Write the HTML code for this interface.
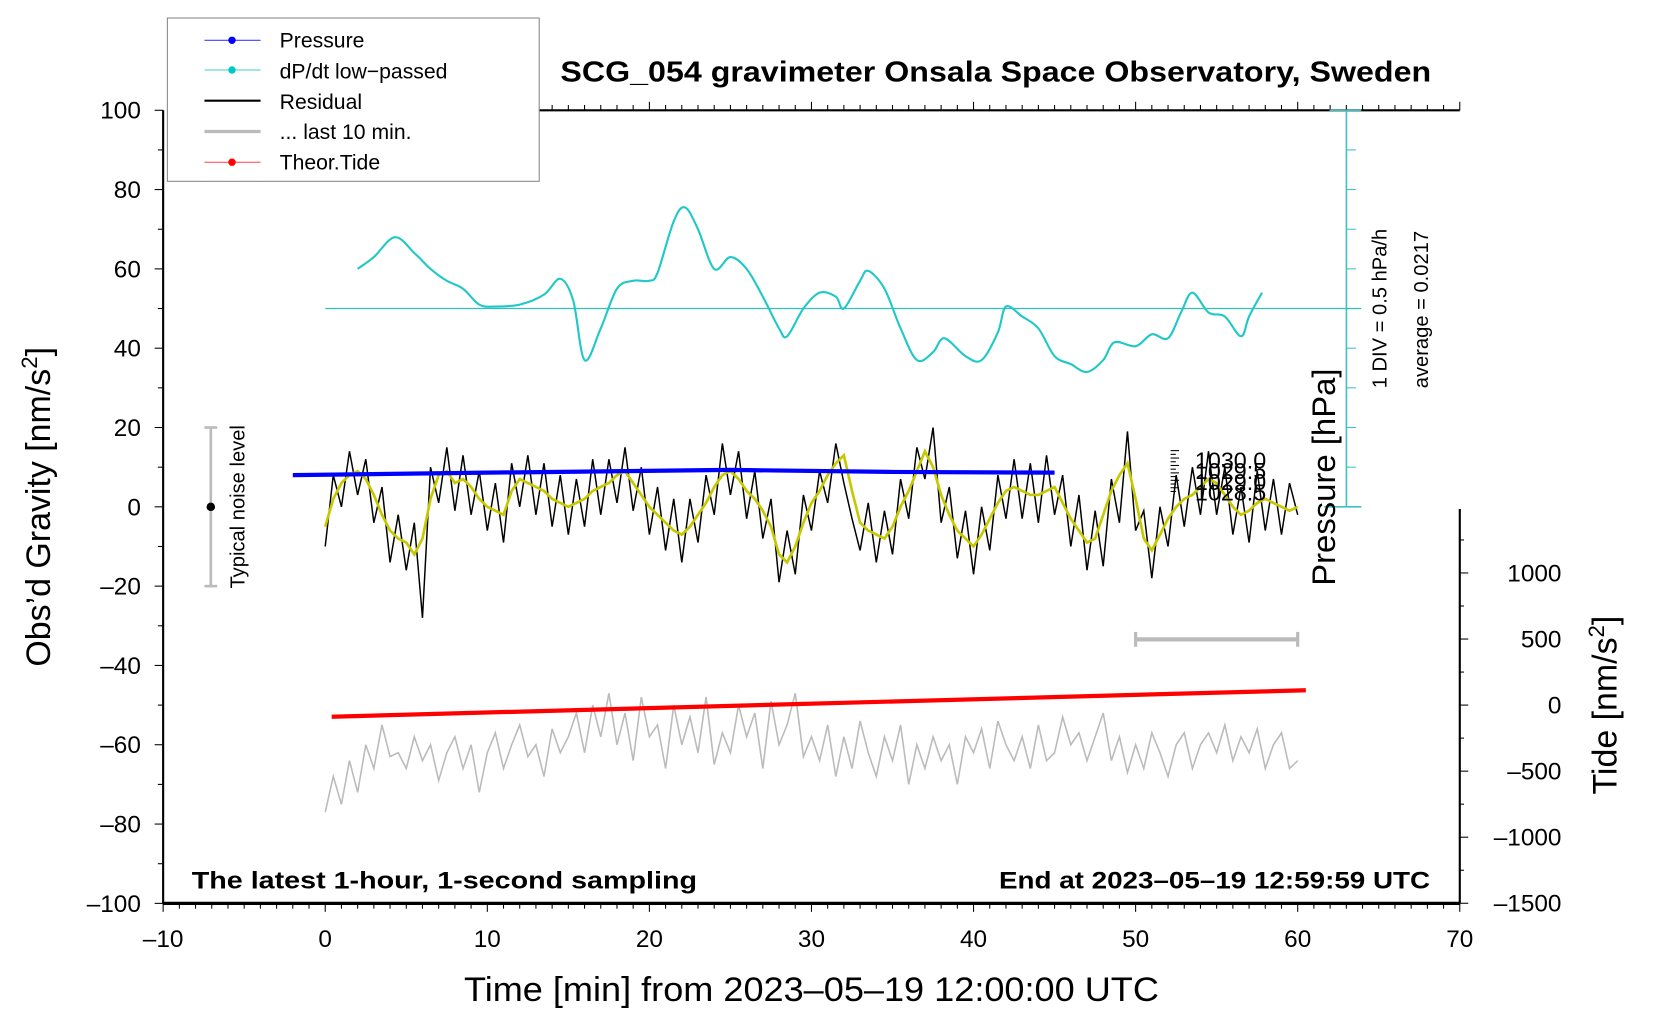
<!DOCTYPE html>
<html><head><meta charset="utf-8">
<style>
html,body{margin:0;padding:0;background:#fff;}
svg{display:block;font-family:"Liberation Sans",sans-serif;}
</style></head>
<body>
<svg id="chart" width="1660" height="1020" viewBox="0 0 1567 962" preserveAspectRatio="none" xmlns="http://www.w3.org/2000/svg">
<rect x="0" y="0" width="1567" height="962" fill="#fff"/>
<g id="axes"></g>
<g id="series"></g>
<text x="529" y="77" font-size="27" font-weight="bold" textLength="822" lengthAdjust="spacingAndGlyphs">SCG_054 gravimeter Onsala Space Observatory, Sweden</text>
<text x="181" y="838" font-size="23" font-weight="bold" textLength="477" lengthAdjust="spacingAndGlyphs">The latest 1-hour, 1-second sampling</text>
<text x="943" y="838" font-size="23" font-weight="bold" textLength="407" lengthAdjust="spacingAndGlyphs">End at 2023–05–19 12:59:59 UTC</text>
<text x="438" y="944" font-size="32" textLength="656" lengthAdjust="spacingAndGlyphs">Time [min] from 2023–05–19 12:00:00 UTC</text>
<text transform="translate(47,478) rotate(-90)" font-size="32" text-anchor="middle">Obs’d Gravity [nm/s<tspan dy="-12" font-size="21">2</tspan><tspan dy="12">]</tspan></text>
<text transform="translate(1526,665) rotate(-90)" font-size="32" text-anchor="middle">Tide [nm/s<tspan dy="-12" font-size="21">2</tspan><tspan dy="12">]</tspan></text>
<text transform="translate(1260,450) rotate(-90)" font-size="31" text-anchor="middle">Pressure [hPa]</text>
<text transform="translate(1309,291) rotate(-90)" font-size="19" text-anchor="middle">1 DIV = 0.5 hPa/h</text>
<text transform="translate(1348,292) rotate(-90)" font-size="19" text-anchor="middle">average = 0.0217</text>
<text transform="translate(231,478) rotate(-90)" font-size="19" text-anchor="middle">Typical noise level</text>
<g font-size="22" fill="#000">
<text x="1128" y="442">1030.0</text><text x="1128" y="452">1029.5</text><text x="1128" y="462">1029.0</text><text x="1128" y="472">1028.5</text>
</g>
<g>
<rect x="158" y="17" width="351" height="154" fill="#fff" stroke="#888" stroke-width="1"/>
<line x1="193" y1="38" x2="246" y2="38" stroke="#4040ff" stroke-width="1"/><circle cx="219" cy="38" r="3.5" fill="#0000ff"/>
<text x="264" y="45" font-size="20">Pressure</text>
<line x1="193" y1="66" x2="246" y2="66" stroke="#40d0d0" stroke-width="1"/><circle cx="219" cy="66" r="3.5" fill="#00c8c8"/>
<text x="264" y="74" font-size="20">dP/dt low−passed</text>
<line x1="193" y1="95" x2="246" y2="95" stroke="#000" stroke-width="2"/>
<text x="264" y="103" font-size="20">Residual</text>
<line x1="193" y1="124" x2="246" y2="124" stroke="#bbb" stroke-width="3"/>
<text x="264" y="131" font-size="20">... last 10 min.</text>
<line x1="193" y1="153" x2="246" y2="153" stroke="#ff4040" stroke-width="1"/><circle cx="219" cy="153" r="3.5" fill="#ff0000"/>
<text x="264" y="160" font-size="20">Theor.Tide</text>
</g>
</svg>
<script>
const xTicks=[-10,0,10,20,30,40,50,60,70];
const yTicks=[100,80,60,40,20,0,-20,-40,-60,-80,-100];
const tideTicks=[1000,500,0,-500,-1000,-1500];
const yellowVals=[-5,2,6,8,9,7,3,-2,-6,-8,-9,-12,-8,2,8,9,6,7,5,2,0,-1,-2,4,7,6,5,4,2,1,0,1,2,4,5,6,8,9,6,3,0,-2,-4,-6,-7,-5,-2,1,5,8,9,7,4,2,-1,-5,-12,-14,-10,-4,1,4,8,11,13,4,-4,-6,-7,-8,-5,0,4,9,14,10,3,-2,-6,-8,-10,-7,-3,1,4,5,4,3,3,4,5,1,-3,-6,-9,-8,-2,4,8,11,2,-8,-11,-7,-3,0,2,3,5,7,6,3,0,-2,-1,1,2,1,0,-1,0];
const residualVals=[-10,8,0,14,3,12,-4,5,-14,-2,-16,-4,-28,10,1,15,-1,13,-2,9,-6,6,-9,11,0,13,-2,11,-5,8,-7,7,-5,12,-2,12,1,15,-1,10,-7,5,-11,2,-14,2,-9,8,-2,16,3,14,-3,9,-8,2,-19,-6,-17,3,-6,9,1,16,6,-3,-11,1,-14,-1,-12,7,-3,15,7,20,-4,5,-13,-1,-17,0,-11,8,-3,12,-3,11,-4,13,-2,8,-10,3,-16,-1,-15,7,-4,19,-6,-1,-18,0,-10,8,-5,10,-2,14,-2,10,-7,5,-9,9,-6,7,-7,6,-2];
const grayVals=[-77,-68,-75,-64,-72,-60,-66,-55,-63,-62,-66,-58,-64,-60,-69,-62,-58,-66,-60,-72,-62,-57,-66,-60,-55,-63,-60,-68,-56,-62,-58,-52,-62,-50,-58,-47,-60,-52,-64,-48,-58,-55,-66,-50,-60,-53,-62,-48,-65,-57,-62,-50,-58,-52,-66,-49,-60,-55,-47,-63,-58,-64,-55,-68,-58,-66,-54,-62,-68,-58,-64,-55,-70,-60,-66,-58,-64,-60,-70,-58,-62,-56,-66,-54,-60,-64,-58,-66,-55,-64,-62,-53,-60,-57,-64,-58,-52,-64,-58,-67,-60,-66,-57,-62,-68,-60,-57,-66,-60,-57,-62,-55,-64,-58,-62,-56,-66,-60,-57,-66,-64];
const dpdtTimes=[2,3,4.3,5.5,6.5,7.5,8.5,9.5,10.5,12,13.5,14.5,15.3,16,17,18,19,20,20.5,21.5,22.2,23,24,25,26,27,28,28.5,29.5,30.5,31.5,32,33,33.5,34.5,35.5,36.5,37.5,38.2,39.5,40.5,41.5,42,43,44,45,46,47,48,48.7,50,51,52,52.8,53.5,54.5,55.5,56.5,57,57.8];
const dpdtVals=[60,63,68,64,60,57,55,51,50.5,51,53.5,57.5,52,37,45,55,57,57,59,72,75.5,70,60,63,60,53,45,43,50,54,53,50,57,59.5,55,45,37,39,42.5,38,37,44,50.5,48,45,38,36,34,37,41.5,40.5,43.5,42.5,49,54,49,48,43,48,54];
const dpdtAverage=50;
const pressTimes=[-2,10,25,35,45];
const pressVals=[8,8.6,9.3,8.8,8.6];
const tideTimes=[0.4,60.5];
const tideVals=[-88,112];

var X=function(t){return 307+t*15.3;};
var Y=function(v){return 478-v*3.74;};
var T=function(v){return 665-v*62.3/500;};
var NS="http://www.w3.org/2000/svg";
var axes=document.getElementById('axes');
var ser=document.getElementById('series');
function mk(tag,at,parent){var el=document.createElementNS(NS,tag);for(var k in at){el.setAttribute(k,at[k]);}parent.appendChild(el);return el;}
function fmt(v){return String(v).replace('-','\u2013');}

var el=mk('line',{x1:154,y1:104,x2:154,y2:852,stroke:'#000','stroke-width':2},axes);


el=mk('line',{x1:154,y1:852,x2:1378,y2:852,stroke:'#000','stroke-width':3},axes);


el=mk('line',{x1:509,y1:104,x2:1378,y2:104,stroke:'#000','stroke-width':2},axes);


el=mk('line',{x1:1378,y1:480,x2:1378,y2:852,stroke:'#000','stroke-width':2},axes);


for(var m=-10;m<=70;m++){var big=(m%10===0);
 mk('line',{x1:X(m),y1:852,x2:X(m),y2:852+(big?8:5),stroke:'#000','stroke-width':1},axes);
 if(X(m)>=509){mk('line',{x1:X(m),y1:104,x2:X(m),y2:104-(big?8:5),stroke:'#000','stroke-width':1},axes);}}
xTicks.forEach(function(t){var tx=mk('text',{x:X(t),y:893,'font-size':23,'text-anchor':'middle'},axes);tx.textContent=fmt(t);

});
for(var v=-100;v<=100;v+=10){mk('line',{x1:146+(v%20===0?0:3),y1:Y(v),x2:154,y2:Y(v),stroke:'#000','stroke-width':1},axes);}
yTicks.forEach(function(v){var tx=mk('text',{x:133,y:Y(v)+8,'font-size':23,'text-anchor':'end'},axes);tx.textContent=fmt(v);

});
for(var tv=-1500;tv<=1500;tv+=250){var ty=T(tv);if(ty<480)continue;mk('line',{x1:1378,y1:ty,x2:1378+(tv%500===0?8:4),y2:ty,stroke:'#000','stroke-width':1},axes);}
tideTicks.forEach(function(v){var tx=mk('text',{x:1474,y:T(v)+8,'font-size':23,'text-anchor':'end'},axes);tx.textContent=fmt(v);

});
el=mk('line',{x1:1271,y1:104,x2:1271,y2:478,stroke:'#40c0c0','stroke-width':1.5},axes);


for(var i=0;i<=10;i++){var yy=104+i*37.4;mk('line',{x1:1271,y1:yy,x2:1280,y2:yy,stroke:'#40c0c0','stroke-width':1},axes);}
mk('line',{x1:1255,y1:104,x2:1285,y2:104,stroke:'#40c0c0','stroke-width':1.5},axes);
mk('line',{x1:1250,y1:478,x2:1285,y2:478,stroke:'#40c0c0','stroke-width':1.5},axes);
for(var j=0;j<12;j++){mk('line',{x1:1105,y1:425+j*3.5,x2:1110+(j%2?0:3),y2:425+j*3.5,stroke:'#000','stroke-width':1},axes);}

function poly(xs,ys,fx,fy,attrs,name){var pts=xs.map(function(x,k){return fx(x).toFixed(1)+','+fy(ys[k]).toFixed(1);}).join(' ');
 attrs.points=pts;attrs.fill='none';
 var p=mk('polyline',attrs,ser);
 
 }
function smooth(xs,ys,fx,fy,attrs,name){
 var P=xs.map(function(x,k){return [fx(x),fy(ys[k])];});
 var n=P.length;
 var d='M'+P[0][0].toFixed(1)+' '+P[0][1].toFixed(1);
 for(var k=0;k<n-1;k++){
  var a=P[Math.max(0,k-1)],b=P[k],c=P[k+1],e2=P[Math.min(n-1,k+2)];
  var c1x=b[0]+(c[0]-a[0])/6,c1y=b[1]+(c[1]-a[1])/6,c2x=c[0]-(e2[0]-b[0])/6,c2y=c[1]-(e2[1]-b[1])/6;
  d+=' C'+c1x.toFixed(1)+' '+c1y.toFixed(1)+' '+c2x.toFixed(1)+' '+c2y.toFixed(1)+' '+c[0].toFixed(1)+' '+c[1].toFixed(1);}
 attrs.d=d;attrs.fill='none';
 var p=mk('path',attrs,ser);
 
 }
var ts=yellowVals.map(function(_,k){return k*0.5;});
el=mk('line',{x1:X(0),y1:Y(dpdtAverage),x2:1285,y2:Y(dpdtAverage),stroke:'#30c0c0','stroke-width':1.2},ser);


try{smooth(dpdtTimes,dpdtVals,X,Y,{stroke:'#20c8c8','stroke-width':2},'dpdt-line');}
catch(err){poly(dpdtTimes,dpdtVals,X,Y,{stroke:'#20c8c8','stroke-width':2},'dpdt-line');}
poly(grayVals.map(function(_,k){return k*0.5;}),grayVals,X,Y,{stroke:'#bbb','stroke-width':1.5},'last-10-min-line');
poly(ts,residualVals,X,Y,{stroke:'#000','stroke-width':1.4},'residual-line');
poly(ts,yellowVals,X,Y,{stroke:'#c8c800','stroke-width':2.5},'residual-smoothed-line');
poly(pressTimes,pressVals,X,Y,{stroke:'#0000ff','stroke-width':4},'pressure-line');
poly(tideTimes,tideVals,X,T,{stroke:'#ff0000','stroke-width':4},'tide-line');
el=mk('g',{},ser);


mk('line',{x1:199,y1:Y(20),x2:199,y2:Y(-20),stroke:'#bbb','stroke-width':2.5},el);
mk('line',{x1:193,y1:Y(20),x2:205,y2:Y(20),stroke:'#bbb','stroke-width':2.5},el);
mk('line',{x1:193,y1:Y(-20),x2:205,y2:Y(-20),stroke:'#bbb','stroke-width':2.5},el);
mk('circle',{cx:199,cy:Y(0),r:4,fill:'#000'},el);
el=mk('g',{},ser);


mk('line',{x1:X(50),y1:603,x2:X(60),y2:603,stroke:'#bbb','stroke-width':4},el);
mk('line',{x1:X(50),y1:596,x2:X(50),y2:610,stroke:'#bbb','stroke-width':3},el);
mk('line',{x1:X(60),y1:596,x2:X(60),y2:610,stroke:'#bbb','stroke-width':3},el);
</script>
</body></html>
